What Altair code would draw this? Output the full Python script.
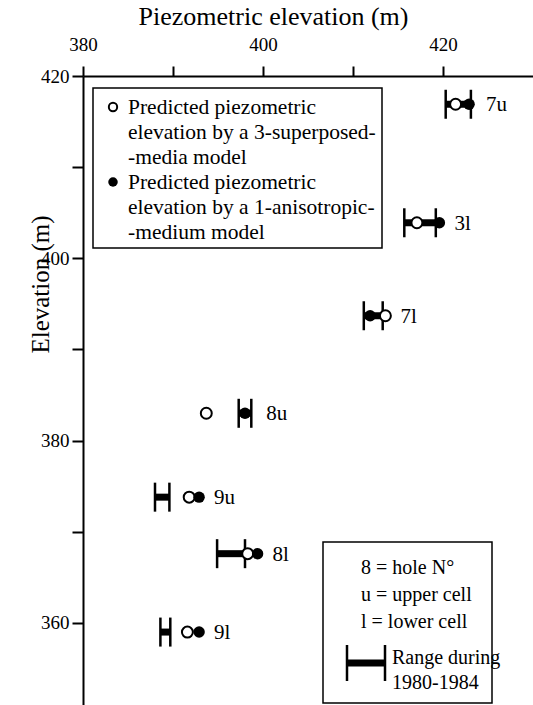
import altair as alt
import pandas as pd

# ---- data ----
holes = ["7", "3", "7", "8", "9", "8", "9"]
cells = ["u", "l", "l", "u", "u", "l", "l"]
elevation = [416.9, 403.9, 393.7, 383.0, 373.8, 367.6, 359.0]
pred_superposed = [421.4, 417.1, 413.6, 393.7, 391.8, 398.3, 391.6]   # open circles
pred_anisotropic = [422.9, 419.6, 411.9, 398.0, 392.9, 399.4, 392.9]  # filled circles
range_lo = [420.3, 415.7, 411.2, 397.3, 388.0, 394.9, 388.6]
range_hi = [423.1, 419.2, 413.3, 398.7, 389.6, 398.0, 389.7]

x_ticks = [380, 390, 400, 410, 420]
y_ticks = [360, 370, 380, 390, 400, 410, 420]
x_domain = [380, 430]
y_domain = [351, 420]

legend1_a = ["Predicted piezometric", "elevation by a 3-superposed-", "-media model"]
legend1_b = ["Predicted piezometric", "elevation by a 1-anisotropic-", "-medium model"]
legend2_keys = ["8 = hole N°", "u = upper cell", "l = lower cell"]
legend2_range = ["Range during", "1980-1984"]

df = pd.DataFrame({
    "label": [h + c for h, c in zip(holes, cells)],
    "elev": elevation,
    "p3": pred_superposed,
    "p1": pred_anisotropic,
    "lo": range_lo,
    "hi": range_hi,
})
df["lab_x"] = df[["p3", "p1", "hi"]].max(axis=1)

FONT = "Liberation Serif"
xs = alt.Scale(domain=x_domain, nice=False, zero=False)
ys = alt.Scale(domain=y_domain, nice=False, zero=False)

x_axis = alt.Axis(
    orient="top", values=x_ticks,
    labelExpr="datum.value % 20 == 0 ? datum.label : ''",
    title="Piezometric elevation (m)", titleFont=FONT, titleFontSize=26,
    titleFontWeight="normal", titleColor="black", titleX=190, titleY=-52,
    titleBaseline="alphabetic", titleAlign="center", titleAnchor="start",
    domainColor="black", domainWidth=2, tickColor="black", tickWidth=2,
    tickSize=10, labelFont=FONT, labelFontSize=19, labelColor="black",
    labelPadding=12, labelFlush=False, labelOverlap=False, grid=False,
)
y_axis = alt.Axis(
    orient="left", values=y_ticks,
    labelExpr="datum.value % 20 == 0 ? datum.label : ''",
    title="Elevation (m)", titleFont=FONT, titleFontSize=25,
    titleFontWeight="normal", titleColor="black", titleAngle=270,
    titleX=-35, titleY=208, titleBaseline="alphabetic", titleAlign="center",
    titleAnchor="start",
    domainColor="black", domainWidth=2, tickColor="black", tickWidth=2,
    tickSize=11, labelFont=FONT, labelFontSize=19, labelColor="black",
    labelPadding=3, labelFlush=False, labelOverlap=False, grid=False,
)


def X(field):
    return alt.X(field, type="quantitative", scale=xs, axis=x_axis)


def Y(field):
    return alt.Y(field, type="quantitative", scale=ys, axis=y_axis)


base = alt.Chart(df)

bars = base.mark_rule(color="black", strokeWidth=7, strokeCap="butt").encode(
    x=X("lo"), x2="hi:Q", y=Y("elev"))
tick_lo = base.mark_tick(orient="vertical", size=29, thickness=2.5, color="black", opacity=1).encode(
    x=X("lo"), y=Y("elev"))
tick_hi = base.mark_tick(orient="vertical", size=29, thickness=2.5, color="black", opacity=1).encode(
    x=X("hi"), y=Y("elev"))
open_pts = base.mark_circle(fill="white", stroke="black", strokeWidth=2, size=120, opacity=1).encode(
    x=X("p3"), y=Y("elev"))
filled_pts = base.mark_circle(color="black", size=130, opacity=1).encode(
    x=X("p1"), y=Y("elev"))
labels = base.mark_text(align="left", baseline="middle", dx=15, dy=1, font=FONT, fontSize=21, color="black").encode(
    x=X("lab_x"), y=Y("elev"), text="label:N")

one = alt.Chart(pd.DataFrame({"k": [0]}))

# top legend
box1 = one.mark_rect(fill="white", stroke="black", strokeWidth=1.5).encode(
    x=alt.value(10), x2=alt.value(299), y=alt.value(12), y2=alt.value(172))
leg_open = one.mark_circle(fill="white", stroke="black", strokeWidth=2, size=70, opacity=1).encode(
    x=alt.value(30), y=alt.value(31))
leg_fill = one.mark_circle(color="black", size=90, opacity=1).encode(
    x=alt.value(30), y=alt.value(106))
leg_t1 = one.mark_text(align="left", baseline="alphabetic", font=FONT, fontSize=21.5, lineHeight=25,
                       color="black", text=legend1_a).encode(x=alt.value(45), y=alt.value(38))
leg_t2 = one.mark_text(align="left", baseline="alphabetic", font=FONT, fontSize=21.5, lineHeight=25,
                       color="black", text=legend1_b).encode(x=alt.value(45), y=alt.value(113))

# bottom legend
box2 = one.mark_rect(fill="white", stroke="black", strokeWidth=1.5).encode(
    x=alt.value(240), x2=alt.value(409), y=alt.value(466), y2=alt.value(627))
leg_keys = one.mark_text(align="left", baseline="alphabetic", font=FONT, fontSize=20, lineHeight=27,
                         color="black", text=legend2_keys).encode(x=alt.value(278), y=alt.value(498))
leg_rng_txt = one.mark_text(align="left", baseline="alphabetic", font=FONT, fontSize=20, lineHeight=25,
                            color="black", text=legend2_range).encode(x=alt.value(309), y=alt.value(588))
leg_rng_bar = one.mark_rule(color="black", strokeWidth=7, strokeCap="butt").encode(
    x=alt.value(264), x2=alt.value(302), y=alt.value(587))
leg_rng_l = one.mark_rule(color="black", strokeWidth=2.5).encode(
    x=alt.value(264), y=alt.value(569), y2=alt.value(605))
leg_rng_r = one.mark_rule(color="black", strokeWidth=2.5).encode(
    x=alt.value(302), y=alt.value(569), y2=alt.value(605))

chart = alt.layer(
    bars, tick_lo, tick_hi, open_pts, filled_pts, labels,
    box1, leg_open, leg_fill, leg_t1, leg_t2,
    box2, leg_keys, leg_rng_txt, leg_rng_bar, leg_rng_l, leg_rng_r,
).properties(
    width=450, height=629,
    padding={"left": 83, "top": 76, "right": 0, "bottom": 0},
    autosize=alt.AutoSizeParams(type="none"),
    background="white",
).configure_view(stroke=None)

chart.save("out.html", embed_options={"renderer": "svg", "actions": False})
